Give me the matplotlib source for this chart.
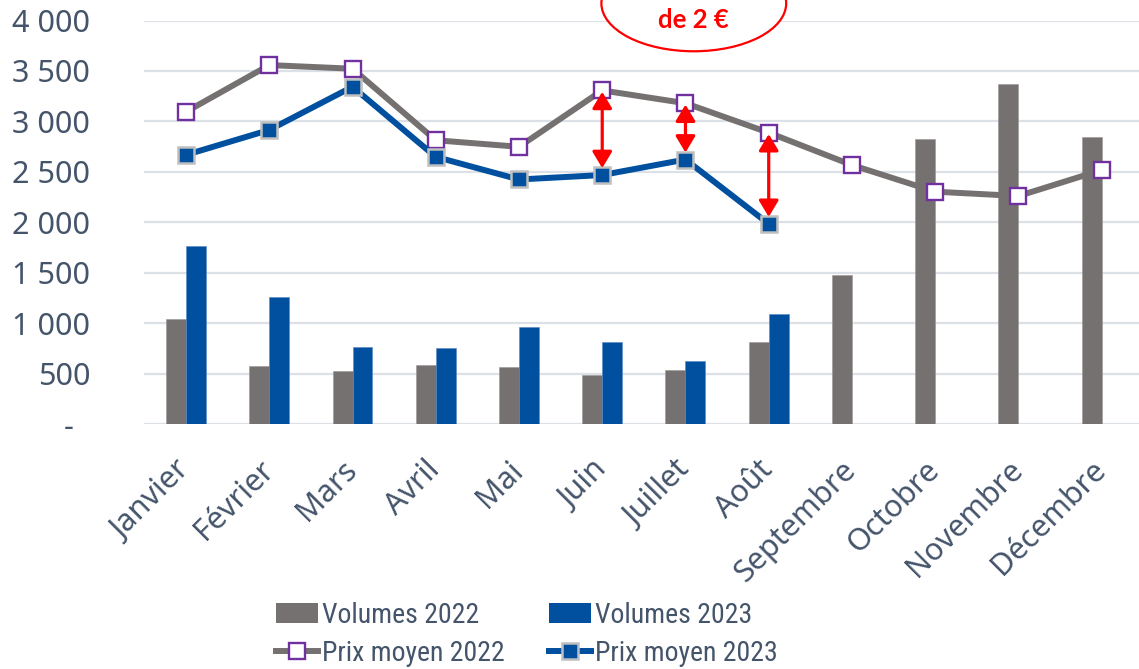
import matplotlib
matplotlib.use("Agg")
import matplotlib.pyplot as plt
from matplotlib import font_manager
from matplotlib.patches import Ellipse, Patch
from matplotlib.lines import Line2D
import numpy as np

# ---------------- data ----------------
months = ['Janvier', 'Février', 'Mars', 'Avril', 'Mai', 'Juin', 'Juillet',
          'Août', 'Septembre', 'Octobre', 'Novembre', 'Décembre']
vol_2022 = [1045, 578, 528, 582, 568, 482, 538, 812, 1480, 2830, 3368, 2845]
vol_2023 = [1766, 1256, 760, 750, 963, 812, 625, 1095]
prix_2022 = [3095, 3558, 3522, 2813, 2748, 3307, 3180, 2888, 2567, 2303, 2260, 2518]
prix_2023 = [2668, 2915, 3343, 2648, 2424, 2468, 2622, 1984]
y_ticks = [0, 500, 1000, 1500, 2000, 2500, 3000, 3500, 4000]
arrow_months = ['Juin', 'Juillet', 'Août']
series_labels = ['Volumes 2022', 'Volumes 2023', 'Prix moyen 2022', 'Prix moyen 2023']
annot_text = 'Écart\nde 2 €'

# ---------------- style ----------------
installed = {f.name for f in font_manager.fontManager.ttflist}
main_font = 'Noto Sans' if 'Noto Sans' in installed else 'DejaVu Sans'
legend_font = main_font
for cand in ['Liberation Sans Narrow', 'Roboto Condensed', 'Open Sans Condensed']:
    if cand in installed:
        legend_font = cand
        break
bold_font = 'Lato' if 'Lato' in installed else main_font
plt.rcParams['font.family'] = [main_font, 'DejaVu Sans']

TEXT = '#44546A'
GRAY = '#767171'
BLUE = '#00509F'
PURPLE = '#7030A0'
GRID = '#DCE1E8'
RED = '#FF0000'

W, H = 1139, 669
fig = plt.figure(figsize=(W / 100, H / 100), dpi=100)
left_px, right_px = 144.4, 1143.3
bottom_px, top_px = 424.0, 20.5
ax = fig.add_axes([left_px / W, (H - bottom_px) / H,
                   (right_px - left_px) / W, (bottom_px - top_px) / H])

x = np.arange(len(months))
bw = 0.24
ax.bar(x - bw / 2, vol_2022, width=bw, color=GRAY, zorder=2,
       edgecolor='#9a9696', linewidth=0.4, label=series_labels[0])
x23 = np.arange(len(vol_2023))
ax.bar(x23 + bw / 2, vol_2023, width=bw, color=BLUE, zorder=2,
       edgecolor='#5b86c0', linewidth=0.4, label=series_labels[1])

ax.plot(x, prix_2022, color=GRAY, lw=4.3, marker='s', ms=12,
        mfc='white', mec=PURPLE, mew=1.7, zorder=3, label=series_labels[2],
        solid_joinstyle='round')
ax.plot(x23, prix_2023, color=BLUE, lw=4.3, marker='s', ms=12,
        mfc=BLUE, mec='#BFBFBF', mew=1.8, zorder=4, label=series_labels[3],
        solid_joinstyle='round')

# red double arrows for the gap
for m in arrow_months:
    i = months.index(m)
    ax.annotate('', xy=(i, prix_2023[i]), xytext=(i, prix_2022[i]),
                arrowprops=dict(arrowstyle='<|-|>,head_length=0.45,head_width=0.27',
                                color=RED, lw=2.3, mutation_scale=22,
                                shrinkA=1, shrinkB=5),
                zorder=6)

# ellipse callout (partially cut at the top)
ax.add_patch(Ellipse((6.1, 4170), width=2.22, height=950, facecolor='white',
                     edgecolor=RED, lw=1.6, clip_on=False, zorder=7))
ax.text(6.1, 4170, annot_text, color=RED, fontsize=18.5, fontweight='bold',
        family=[bold_font, 'DejaVu Sans'],
        ha='center', va='center', linespacing=1.4, clip_on=False, zorder=8)

# axes formatting
ax.set_xlim(-0.5, len(months) - 0.5)
ax.set_ylim(0, 4000)
ax.set_yticks(y_ticks)
ax.set_yticklabels(['-  ' if v == 0 else f'{v:,}'.replace(',', ' ') for v in y_ticks])
ax.set_xticks(x)
ax.set_xticklabels(months, rotation=45, ha='right', va='center',
                   rotation_mode='anchor')
ax.tick_params(axis='y', length=0, pad=39, labelsize=22, labelcolor=TEXT)
ax.tick_params(axis='x', length=0, pad=30, labelsize=22, labelcolor=TEXT)
for s in ax.spines.values():
    s.set_visible(False)
ax.grid(axis='y', color=GRID, lw=1.6, zorder=0)
ax.set_axisbelow(True)

# legend
handles = [Patch(facecolor=GRAY),
           Line2D([], [], color=GRAY, lw=4.3, marker='s', ms=12, mfc='white',
                  mec=PURPLE, mew=1.7),
           Patch(facecolor=BLUE),
           Line2D([], [], color=BLUE, lw=4.3, marker='s', ms=12, mfc=BLUE,
                  mec='#BFBFBF', mew=1.8)]
labels = [series_labels[0], series_labels[2], series_labels[1], series_labels[3]]
fig.legend(handles, labels, ncol=2, loc='upper left',
           bbox_to_anchor=(276 / W, 1 - 602 / H), frameon=False,
           prop={'family': legend_font, 'size': 20}, labelcolor=TEXT,
           handlelength=1.5, handleheight=0.72, handletextpad=0.15,
           columnspacing=1.6, labelspacing=0.38, borderpad=0, borderaxespad=0)

fig.savefig('out.png', dpi=100)
